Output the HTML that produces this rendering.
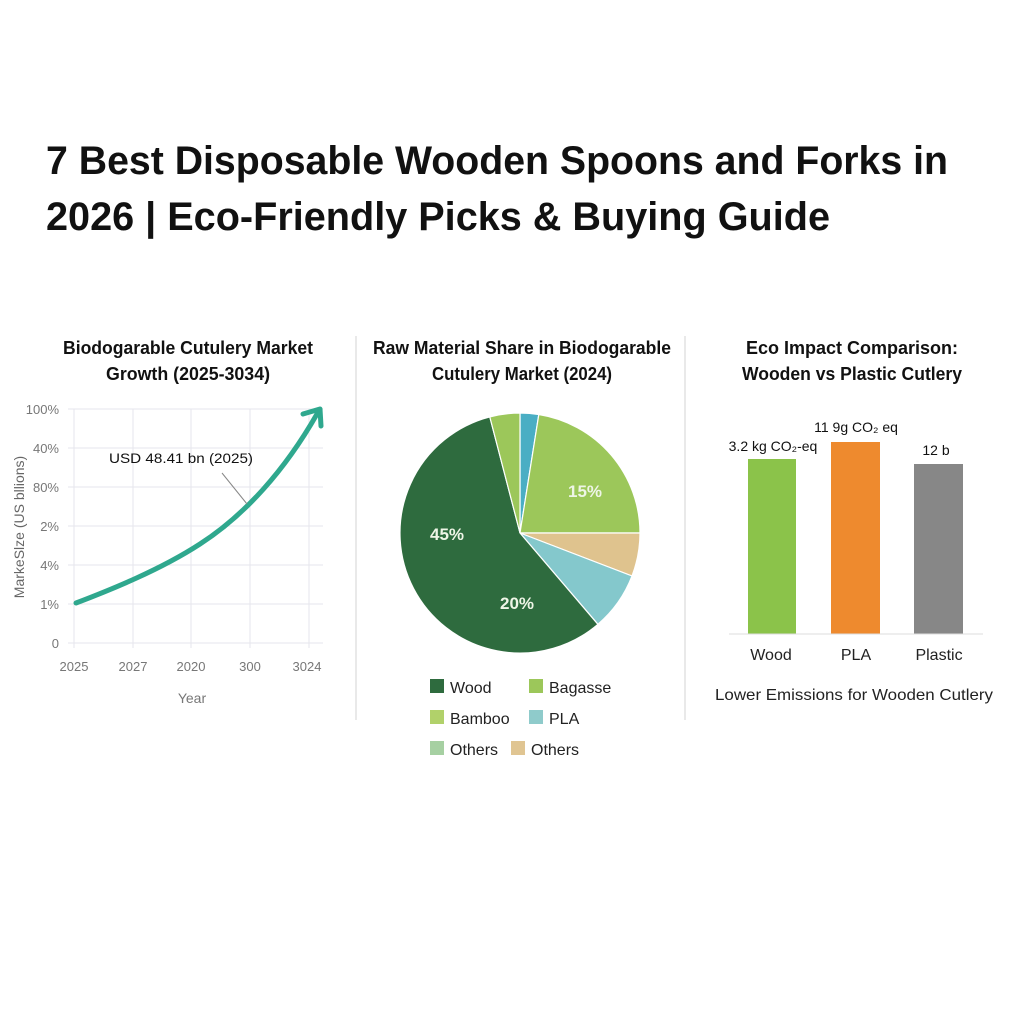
<!DOCTYPE html>
<html><head><meta charset="utf-8"><style>
html,body{margin:0;padding:0;background:#fff;}
svg{display:block;font-family:"Liberation Sans",sans-serif;}
</style></head><body>
<svg width="1024" height="1024" viewBox="0 0 1024 1024">
<rect width="1024" height="1024" fill="#fff"/>
<g font-weight="bold" fill="#111" font-size="40">
<text x="46" y="174" textLength="902" lengthAdjust="spacingAndGlyphs">7 Best Disposable Wooden Spoons and Forks in</text>
<text x="46" y="230" textLength="784" lengthAdjust="spacingAndGlyphs">2026 | Eco-Friendly Picks &amp; Buying Guide</text>
</g>
<line x1="356" y1="336" x2="356" y2="720" stroke="#e2e2e2" stroke-width="1.5"/>
<line x1="685" y1="336" x2="685" y2="720" stroke="#e2e2e2" stroke-width="1.5"/>

<!-- line chart -->
<g font-weight="bold" fill="#111" font-size="18" text-anchor="middle">
<text x="188" y="354" textLength="250" lengthAdjust="spacingAndGlyphs">Biodogarable Cutulery Market</text>
<text x="188" y="380" textLength="164" lengthAdjust="spacingAndGlyphs">Growth (2025-3034)</text>
</g>
<g stroke="#e6e6ec" stroke-width="1">
<line x1="68" y1="409" x2="323" y2="409"/><line x1="68" y1="448" x2="323" y2="448"/>
<line x1="68" y1="487" x2="323" y2="487"/><line x1="68" y1="526" x2="323" y2="526"/>
<line x1="68" y1="565" x2="323" y2="565"/><line x1="68" y1="604" x2="323" y2="604"/>
<line x1="68" y1="643" x2="323" y2="643"/>
<line x1="74" y1="409" x2="74" y2="648"/><line x1="133" y1="409" x2="133" y2="648"/>
<line x1="191" y1="409" x2="191" y2="648"/><line x1="250" y1="409" x2="250" y2="648"/>
<line x1="309" y1="409" x2="309" y2="648"/>
</g>
<g fill="#777" font-size="13" text-anchor="end">
<text x="59" y="414">100%</text><text x="59" y="453">40%</text><text x="59" y="492">80%</text>
<text x="59" y="531">2%</text><text x="59" y="570">4%</text><text x="59" y="609">1%</text><text x="59" y="648">0</text>
</g>
<g fill="#777" font-size="13" text-anchor="middle">
<text x="74" y="671">2025</text><text x="133" y="671">2027</text><text x="191" y="671">2020</text>
<text x="250" y="671">300</text><text x="307" y="671">3024</text>
<text x="192" y="703" font-size="14">Year</text>
<text transform="translate(24,527) rotate(-90)" font-size="14" fill="#666">MarkeSlze (US bllions)</text>
</g>
<path d="M76,603 C110,590 160,570 200,544 C245,515 285,470 317,414" fill="none" stroke="#2fa88e" stroke-width="5" stroke-linecap="round"/>
<path d="M303,414 L320,409 L321,426" fill="none" stroke="#2fa88e" stroke-width="5" stroke-linecap="round" stroke-linejoin="round"/>
<line x1="222" y1="473" x2="247" y2="504" stroke="#888" stroke-width="1"/>
<text x="181" y="463" font-size="14" fill="#111" text-anchor="middle" textLength="144" lengthAdjust="spacingAndGlyphs">USD 48.41 bn (2025)</text>

<!-- pie -->
<g font-weight="bold" fill="#111" font-size="18" text-anchor="middle">
<text x="522" y="354" textLength="298" lengthAdjust="spacingAndGlyphs">Raw Material Share in Biodogarable</text>
<text x="522" y="380" textLength="180" lengthAdjust="spacingAndGlyphs">Cutulery Market (2024)</text>
</g>
<g stroke="#fff" stroke-width="1.2" transform="translate(520,533)">
<path d="M0,0 L0,-120 A120,120 0 0 1 18.8,-118.5 Z" fill="#4aaec4"/>
<path d="M0,0 L18.8,-118.5 A120,120 0 0 1 120,0 Z" fill="#9cc75a"/>
<path d="M0,0 L120,0 A120,120 0 0 1 112,43 Z" fill="#dfc38e"/>
<path d="M0,0 L112,43 A120,120 0 0 1 77.9,91.3 Z" fill="#84c8cc"/>
<path d="M0,0 L77.9,91.3 A120,120 0 1 1 -30.2,-116.1 Z" fill="#2e6b3e"/>
<path d="M0,0 L-30.2,-116.1 A120,120 0 0 1 0,-120 Z" fill="#9cc75a"/>
</g>
<g fill="#eef5e6" font-weight="bold" font-size="17" text-anchor="middle">
<text x="585" y="497">15%</text><text x="447" y="540">45%</text><text x="517" y="609">20%</text>
</g>
<g font-size="16" fill="#222">
<rect x="430" y="679" width="14" height="14" fill="#2e6b3e"/><text x="450" y="693">Wood</text>
<rect x="529" y="679" width="14" height="14" fill="#9cc75a"/><text x="549" y="693">Bagasse</text>
<rect x="430" y="710" width="14" height="14" fill="#b1d16a"/><text x="450" y="724">Bamboo</text>
<rect x="529" y="710" width="14" height="14" fill="#8fcbcb"/><text x="549" y="724">PLA</text>
<rect x="430" y="741" width="14" height="14" fill="#a6d0a2"/><text x="450" y="755">Others</text>
<rect x="511" y="741" width="14" height="14" fill="#e0c592"/><text x="531" y="755">Others</text>
</g>

<!-- bars -->
<g font-weight="bold" fill="#111" font-size="18" text-anchor="middle">
<text x="852" y="354" textLength="212" lengthAdjust="spacingAndGlyphs">Eco Impact Comparison:</text>
<text x="852" y="380" textLength="220" lengthAdjust="spacingAndGlyphs">Wooden vs Plastic Cutlery</text>
</g>
<rect x="748" y="459" width="48" height="175" fill="#8bc34a"/>
<rect x="831" y="442" width="49" height="192" fill="#ee8a2e"/>
<rect x="914" y="464" width="49" height="170" fill="#878787"/>
<line x1="729" y1="634" x2="983" y2="634" stroke="#ddd" stroke-width="1"/>
<g font-size="14" fill="#111" text-anchor="middle">
<text x="773" y="451">3.2 kg CO₂-eq</text>
<text x="856" y="432">11 9g CO₂ eq</text>
<text x="936" y="455">12 b</text>
</g>
<g font-size="16" fill="#222" text-anchor="middle">
<text x="771" y="660">Wood</text><text x="856" y="660">PLA</text><text x="939" y="660">Plastic</text>
<text x="854" y="700" textLength="278" lengthAdjust="spacingAndGlyphs">Lower Emissions for Wooden Cutlery</text>
</g>
</svg>
</body></html>
